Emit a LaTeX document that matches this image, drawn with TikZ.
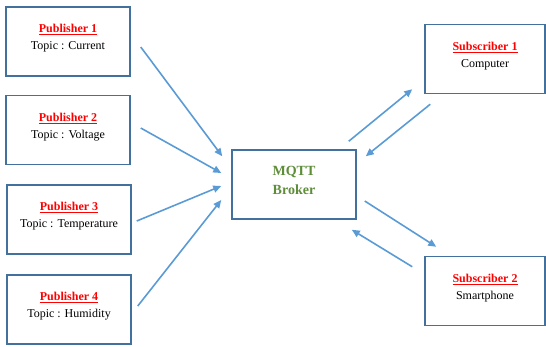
\documentclass[tikz,border=0pt]{standalone}
\usepackage{fontspec}
\setmainfont{Liberation Serif}
\usetikzlibrary{arrows.meta,positioning}
\usepackage{xcolor}
\definecolor{frame}{HTML}{41719C}
\definecolor{wire}{HTML}{5B9BD5}
\definecolor{olive}{HTML}{5F8E3A}
\definecolor{title}{HTML}{FF0000}

\newcommand{\boxtitle}[1]{\textcolor{title}{\textbf{\underline{#1}}}}
\newcommand{\lowstrut}{\rule[-9pt]{0pt}{9pt}}

\begin{document}
\begin{tikzpicture}[
  x=1pt, y=-1pt,
  client/.style={draw=frame, line width=1.5pt, fill=white, align=center,
    minimum width=124pt, minimum height=69pt, inner sep=0pt,
    font=\fontsize{12}{17}\selectfont},
  hub/.style={client, font=\fontsize{14}{19}\selectfont\bfseries, text=olive},
  arrow/.style={-{Triangle[length=8pt,width=7pt]}, line width=1.6pt, draw=wire}
]
\useasboundingbox (0,0) rectangle (546,346);

% publishers on the left
\node[client] (pub1) at (68,41.5) {\boxtitle{Publisher 1}\\Topic : Current\lowstrut};
\node[client] (pub2) at (68,130) {\boxtitle{Publisher 2}\\Topic : Voltage\lowstrut};
\node[client] (pub3) at (69,219.5) {\boxtitle{Publisher 3}\\Topic : Temperature\lowstrut};
\node[client] (pub4) at (69,309.5) {\boxtitle{Publisher 4}\\Topic : Humidity\lowstrut};

% broker and subscribers
\node[hub] (broker) at (294,184.5) {MQTT\\Broker\lowstrut};
\node[client, minimum width=120pt] (sub1) at (485,59) {\boxtitle{Subscriber 1}\\Computer\lowstrut};
\node[client, minimum width=120pt] (sub2) at (485,291) {\boxtitle{Subscriber 2}\\Smartphone\lowstrut};

\draw[arrow] ([shift={(10,5.5)}]pub1.east) -- ([shift={(-9,7)}]broker.north west);
\draw[arrow] ([shift={(10,-2)}]pub2.east) -- ([shift={(-10,-11.5)}]broker.west);
\draw[arrow] ([shift={(5,1.5)}]pub3.east) -- ([shift={(-10,1.5)}]broker.west);
\draw[arrow] ([shift={(6,-3.5)}]pub4.east) -- ([shift={(-10,15.5)}]broker.west);

\draw[arrow] ([shift={(-8,-8)}]broker.north east) -- ([shift={(-12,-5)}]sub1.south west);
\draw[arrow] ([shift={(6,10)}]sub1.south west) -- ([shift={(9,7)}]broker.north east);
\draw[arrow] ([shift={(8,16.5)}]broker.east) -- ([shift={(12,-9)}]sub2.north west);
\draw[arrow] ([shift={(-12,11)}]sub2.north west) -- ([shift={(-5,10)}]broker.south east);
\end{tikzpicture}
\end{document}
